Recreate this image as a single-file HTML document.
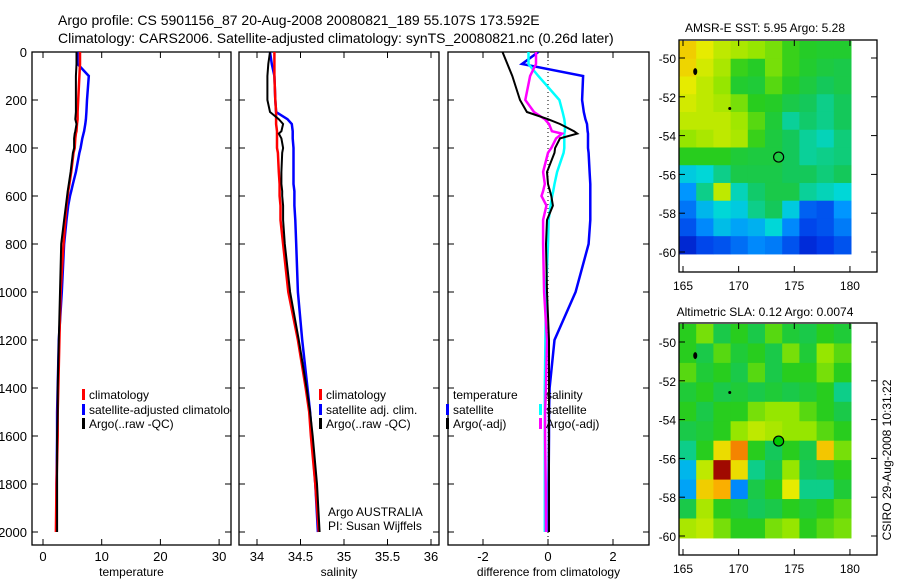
<!DOCTYPE html>
<html><head><meta charset="utf-8"><style>
html,body{margin:0;padding:0;background:#fff;width:900px;height:580px;overflow:hidden}
svg{display:block;font-family:"Liberation Sans",sans-serif}
</style></head><body>
<svg id="c" width="900" height="580" viewBox="0 0 900 580">
<defs>
<clipPath id="cp1"><rect x="32" y="52" width="199" height="493"/></clipPath>
<clipPath id="cp2"><rect x="239" y="52" width="200" height="493"/></clipPath>
<clipPath id="cp3"><rect x="448" y="52" width="201" height="493"/></clipPath>
</defs>
<text x="58" y="25" font-size="14">Argo profile: CS 5901156_87 20-Aug-2008 20080821_189 55.107S 173.592E</text>
<text x="58" y="43" font-size="14">Climatology: CARS2006. Satellite-adjusted climatology: synTS_20080821.nc (0.26d later)</text>
<text x="765" y="32" font-size="12" text-anchor="middle">AMSR-E SST: 5.95 Argo: 5.28</text>
<text x="765" y="316" font-size="12" text-anchor="middle">Altimetric SLA: 0.12 Argo: 0.0074</text>
<text transform="translate(891,460) rotate(-90)" font-size="12" text-anchor="middle">CSIRO 29-Aug-2008 10:31:22</text>
<g id="g"></g>
</svg>
<script>
// depth levels (m)
const depthA = [0,50,100,200,250,280,300,330,340,360,400,420,500,550,580,600,640,700,800,1000,1200,1400,1500,1600,1800,2000];
// temperature
const tClim = [6.3,6.3,6.2,6.0,5.9,5.9,5.8,5.7,5.6,5.5,5.4,5.2,4.8,4.5,4.3,4.2,4.0,3.8,3.5,3.0,2.8,2.6,2.5,2.5,2.3,2.2];
const tSat  = [5.9,5.9,7.8,7.5,7.4,7.3,7.2,7.0,6.9,6.7,6.4,6.2,5.6,5.1,4.8,4.6,4.3,4.0,3.6,3.2,2.7,2.5,2.4,2.4,2.3,2.3];
const tArgo = [5.7,5.7,5.6,5.6,5.6,5.5,5.7,5.5,5.4,5.3,5.3,5.1,4.7,4.4,4.2,4.1,3.9,3.6,3.1,2.9,2.7,2.5,2.5,2.4,2.4,2.4];
// salinity
const sClim = [34.20,34.20,34.20,34.21,34.22,34.22,34.22,34.23,34.23,34.23,34.23,34.24,34.25,34.26,34.26,34.26,34.27,34.27,34.30,34.36,34.47,34.56,34.60,34.62,34.67,34.71];
const sSat  = [34.15,34.17,34.20,34.21,34.22,34.35,34.40,34.41,34.41,34.41,34.42,34.42,34.42,34.42,34.43,34.43,34.43,34.44,34.45,34.47,34.52,34.58,34.61,34.63,34.67,34.70];
const sArgo = [34.15,34.13,34.12,34.12,34.15,34.25,34.30,34.28,34.25,34.28,34.30,34.29,34.28,34.28,34.29,34.29,34.30,34.30,34.32,34.38,34.48,34.57,34.61,34.64,34.69,34.72];
// differences from climatology
const dTSat = [-0.3,-0.8,1.08,1.05,1.1,1.15,1.2,1.22,1.23,1.23,1.23,1.25,1.28,1.3,1.3,1.3,1.3,1.3,1.25,0.85,0.2,0.05,0.03,0.03,0.02,0.02];
const dSSat = [-0.6,-0.6,-0.3,0.35,0.45,0.5,0.52,0.52,0.5,0.5,0.5,0.48,0.28,0.2,0.16,0.13,0.08,0.02,0.0,-0.06,-0.08,-0.1,-0.1,-0.1,-0.1,-0.1];
const dTArgo= [-1.4,-1.25,-1.1,-0.86,-0.65,0.0,0.37,0.8,0.9,0.37,0.22,0.2,-0.03,0.0,0.06,0.1,0.15,-0.03,-0.06,-0.03,0.03,0.03,0.03,0.03,0.03,0.03];
const dSArgo= [-0.37,-0.37,-0.55,-0.7,-0.43,-0.1,0.03,0.12,0.43,0.25,0.1,0.0,-0.15,-0.1,-0.15,-0.2,-0.05,-0.15,-0.15,-0.12,-0.03,-0.06,-0.09,-0.09,-0.07,-0.06];
const depthTicks = [0,200,400,600,800,1000,1200,1400,1600,1800,2000];
const tTicks = [0,10,20,30];
const sTicks = [34,34.5,35,35.5,36];
const sTickLabels = ["34","34.5","35","35.5","36"];
const dTicks = [-2,0,2];
// maps (normalized colormap values 0..1), rows north->south
const sstGrid = [
[.74,.70,.66,.64,.62,.60,.56,.54,.53,.53],
[.73,.68,.64,.56,.54,.60,.56,.53,.51,.50],
[.70,.66,.62,.53,.52,.58,.54,.51,.48,.50],
[.68,.66,.64,.60,.55,.54,.50,.48,.45,.48],
[.66,.66,.66,.63,.58,.52,.44,.47,.45,.48],
[.62,.64,.66,.64,.56,.51,.48,.44,.42,.46],
[.55,.55,.55,.52,.51,.51,.48,.44,.45,.46],
[.38,.40,.45,.50,.50,.50,.48,.48,.46,.48],
[.30,.45,.66,.42,.47,.50,.50,.44,.42,.40],
[.25,.35,.40,.38,.45,.48,.38,.22,.20,.30],
[.20,.28,.36,.32,.34,.40,.28,.18,.20,.26],
[.12,.18,.20,.24,.28,.26,.20,.13,.16,.20]];
const slaGrid = [
[.55,.60,.50,.55,.50,.58,.52,.50,.55,.52],
[.55,.50,.58,.52,.55,.50,.60,.52,.62,.58],
[.58,.52,.55,.50,.58,.50,.55,.55,.60,.55],
[.52,.55,.50,.52,.50,.52,.50,.52,.55,.45],
[.55,.50,.55,.55,.60,.62,.62,.58,.55,.50],
[.50,.52,.55,.62,.66,.64,.62,.62,.58,.55],
[.45,.55,.72,.82,.55,.48,.55,.50,.75,.60],
[.35,.66,.95,.72,.45,.50,.62,.48,.50,.55],
[.32,.74,.78,.28,.50,.55,.70,.45,.45,.52],
[.50,.64,.55,.52,.48,.50,.55,.52,.55,.58],
[.64,.66,.60,.55,.55,.60,.62,.55,.58,.60]];
const lonTicks = [165,170,175,180];
const latTicks = [-50,-52,-54,-56,-58,-60];
const argoLon = 173.592, argoLat = -55.107;

const NS="http://www.w3.org/2000/svg";
const G=document.getElementById('g');
function mk(tag,attrs,parent){const e=document.createElementNS(NS,tag);for(const k in attrs)e.setAttribute(k,attrs[k]);(parent||G).appendChild(e);return e;}
const yD = d => 52 + d*0.24;
const xT = v => 43 + v*5.87;
const xS = v => 257 + (v-34)*87;
const xDf = v => 548 + v*32.5;

function panel(x0,x1,name,ticks,labels,xf,xlabel,ylabels){
  const r=mk('rect',{x:x0,y:52,width:x1-x0,height:493,fill:'none',stroke:'#000','stroke-width':1.3});
  
  
  depthTicks.forEach(d=>{
    mk('line',{x1:x0,x2:x0+6,y1:yD(d),y2:yD(d),stroke:'#000'});
    mk('line',{x1:x1-6,x2:x1,y1:yD(d),y2:yD(d),stroke:'#000'});
    if(ylabels){const t=mk('text',{x:x0-5,y:yD(d)+5,'font-size':13,'text-anchor':'end'});t.textContent=d;
      
      }
  });
  ticks.forEach((v,i)=>{
    const x=xf(v);
    mk('line',{x1:x,x2:x,y1:545,y2:539,stroke:'#000'});
    mk('line',{x1:x,x2:x,y1:52,y2:58,stroke:'#000'});
    const t=mk('text',{x:x,y:561,'font-size':13,'text-anchor':'middle'});t.textContent=labels[i];
    
    
  });
  const t=mk('text',{x:(x0+x1)/2,y:576,'font-size':12,'text-anchor':'middle'});t.textContent=xlabel;
  
  
}
function line(vals,xf,color,w,clip,name){
  const pts=vals.map((v,i)=>xf(v).toFixed(1)+','+yD(depthA[i]).toFixed(1)).join(' ');
  const p=mk('polyline',{points:pts,fill:'none',stroke:color,'stroke-width':w,'clip-path':'url(#'+clip+')'});
  
  
}
function legend(x,y,color,text,clip,name){
  const g=mk('g',{'clip-path':clip?'url(#'+clip+')':''});
  
  
  if(color) mk('rect',{x:x,y:y-9,width:3,height:11,fill:color},g);
  const t=mk('text',{x:x+7,y:y+1,'font-size':12},g);t.textContent=text;
}
panel(32,231,'temperature-panel',tTicks,tTicks.map(String),xT,'temperature',true);
panel(239,439,'salinity-panel',sTicks,sTickLabels,xS,'salinity',false);
panel(448,649,'difference-panel',dTicks,dTicks.map(String),xDf,'difference from climatology',false);
mk('line',{x1:xDf(0),x2:xDf(0),y1:52,y2:545,stroke:'#000','stroke-dasharray':'1,3'});

line(tSat,xT,'#0000ff',2.5,'cp1','temp-satellite-line');
line(tClim,xT,'#ff0000',2.5,'cp1','temp-climatology-line');
line(tArgo,xT,'#000',2,'cp1','temp-argo-line');
line(sSat,xS,'#0000ff',2.5,'cp2','sal-satellite-line');
line(sClim,xS,'#ff0000',2.5,'cp2','sal-climatology-line');
line(sArgo,xS,'#000',2,'cp2','sal-argo-line');
line(dTSat,xDf,'#0000ff',2.5,'cp3','diff-temp-satellite-line');
line(dSSat,xDf,'#00ffff',2.5,'cp3','diff-sal-satellite-line');
line(dSArgo,xDf,'#ff00ff',2.5,'cp3','diff-sal-argo-line');
line(dTArgo,xDf,'#000',2,'cp3','diff-temp-argo-line');

legend(82,398,'#ff0000','climatology','cp1','legend-temp-climatology');
legend(82,413,'#0000ff','satellite-adjusted climatology','cp1','legend-temp-satellite');
legend(82,427,'#000','Argo(..raw -QC)','cp1','legend-temp-argo');
legend(319,398,'#ff0000','climatology',null,'legend-sal-climatology');
legend(319,413,'#0000ff','satellite adj. clim.',null,'legend-sal-satellite');
legend(319,427,'#000','Argo(..raw -QC)',null,'legend-sal-argo');
legend(446,398,null,'temperature',null,'legend-diff-temp-header');
legend(446,413,'#0000ff','satellite',null,'legend-diff-temp-satellite');
legend(446,427,'#000','Argo(-adj)',null,'legend-diff-temp-argo');
legend(539,398,null,'salinity',null,'legend-diff-sal-header');
legend(539,413,'#00ffff','satellite',null,'legend-diff-sal-satellite');
legend(539,427,'#ff00ff','Argo(-adj)',null,'legend-diff-sal-argo');
{const t=mk('text',{x:328,y:516,'font-size':12});t.textContent='Argo AUSTRALIA';


const t2=mk('text',{x:328,y:530,'font-size':12});t2.textContent='PI: Susan Wijffels';

}

const cmapStops=[[0,[0,0,130]],[0.15,[0,50,230]],[0.3,[0,150,255]],[0.4,[0,215,215]],[0.48,[20,200,90]],[0.55,[40,205,30]],[0.62,[150,230,0]],[0.7,[230,235,0]],[0.8,[255,160,0]],[0.9,[200,20,0]],[1,[120,0,0]]];
function cmap(v){
  for(let i=1;i<cmapStops.length;i++){
    if(v<=cmapStops[i][0]){const a=cmapStops[i-1],b=cmapStops[i];const f=(v-a[0])/(b[0]-a[0]);
      return 'rgb('+a[1].map((c,k)=>Math.round(c+(b[1][k]-c)*f)).join(',')+')';}
  }
  return 'rgb(120,0,0)';
}
function map(grid,top,lat50,name,circleFill){
  const xL=lon=>683+(lon-165)*11.13;
  const yL=lat=>lat50+(-50-lat)*19.4;
  const x0=679,x1=851,y0=top+1,y1=yL(-60.1);
  const rows=grid.length,cols=grid[0].length;
  const cw=(x1-x0)/cols,ch=(y1-y0)/rows;
  const g=mk('g',{});
  
  
  grid.forEach((row,r)=>row.forEach((v,c)=>{
    mk('rect',{x:x0+c*cw,y:y0+r*ch,width:cw+0.5,height:ch+0.5,fill:cmap(v)},g);
  }));
  const f=mk('rect',{x:679,y:top,width:198,height:232,fill:'none',stroke:'#000','stroke-width':1.3});
  
  
  lonTicks.forEach(l=>{const x=xL(l);
    mk('line',{x1:x,x2:x,y1:top+232,y2:top+226,stroke:'#000'});
    mk('line',{x1:x,x2:x,y1:top,y2:top+6,stroke:'#000'});
    const t=mk('text',{x:x,y:top+250,'font-size':12,'text-anchor':'middle'});t.textContent=l;
    
    });
  latTicks.forEach(l=>{const y=yL(l);
    mk('line',{x1:679,x2:685,y1:y,y2:y,stroke:'#000'});
    mk('line',{x1:871,x2:877,y1:y,y2:y,stroke:'#000'});
    const t=mk('text',{x:676,y:y+5,'font-size':12,'text-anchor':'end'});t.textContent=l;
    
    });
  mk('ellipse',{cx:xL(166.1),cy:yL(-50.7),rx:2,ry:3.5,fill:'#000'});
  mk('ellipse',{cx:xL(169.2),cy:yL(-52.6),rx:1.5,ry:1.5,fill:'#000'});
  const c=mk('circle',{cx:xL(argoLon),cy:yL(argoLat),r:5,fill:circleFill,stroke:'#000','stroke-width':1.2});
  
  
}
map(sstGrid,40,58,'sst-map','none');
map(slaGrid,323,342,'sla-map','#00c800');
</script>
</body></html>
